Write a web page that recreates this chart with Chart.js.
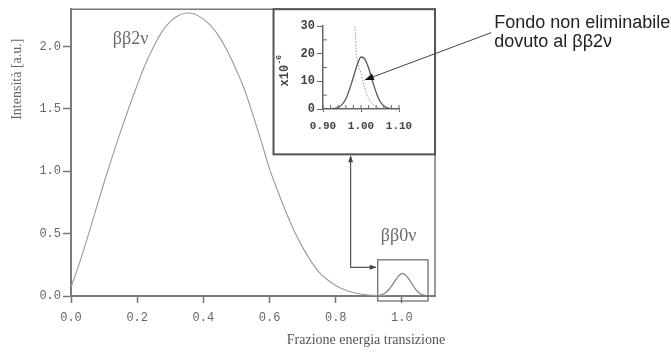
<!DOCTYPE html>
<html>
<head>
<meta charset="utf-8">
<script src="https://cdn.jsdelivr.net/npm/chart.js@4"></script>
<style>
  html, body { margin: 0; padding: 0; background: #fff; }
  #wrap { position: relative; width: 671px; height: 353px; }
  #wrap canvas { position: absolute; left: 0; top: 0; }
</style>
</head>
<body>
<div id="wrap">
  <canvas id="main" width="671" height="353"></canvas>
  <canvas id="inset" width="671" height="353"></canvas>
</div>
<script>
// spettro ββ2ν
const energy2nu = [0, 0.025, 0.05, 0.075, 0.1, 0.125, 0.15, 0.175, 0.2, 0.225, 0.25, 0.275, 0.3, 0.325, 0.35, 0.375, 0.4, 0.425, 0.45, 0.475, 0.5, 0.525, 0.55, 0.575, 0.6, 0.625, 0.65, 0.675, 0.7, 0.725, 0.75, 0.775, 0.8, 0.825, 0.85, 0.875, 0.9, 0.925, 0.95];
const intensity2nu = [0.07, 0.26, 0.47, 0.69, 0.91, 1.12, 1.32, 1.51, 1.69, 1.86, 2.0, 2.12, 2.2, 2.25, 2.27, 2.26, 2.22, 2.16, 2.07, 1.95, 1.81, 1.65, 1.45, 1.24, 1.02, 0.84, 0.67, 0.52, 0.39, 0.28, 0.19, 0.13, 0.085, 0.052, 0.03, 0.016, 0.008, 0.003, 0.001];

// picco ββ0ν
const energy0nu = [0.93, 0.95, 0.96, 0.97, 0.98, 0.99, 1.0, 1.01, 1.02, 1.03, 1.04, 1.05, 1.06, 1.08];
const intensity0nu = [0.004, 0.025, 0.05, 0.085, 0.125, 0.16, 0.18, 0.17, 0.14, 0.1, 0.06, 0.03, 0.012, 0];

// riquadro ingrandito (x10^-6)
const zoomEnergySum = [0.9, 0.92, 0.93, 0.94, 0.95, 0.96, 0.97, 0.98, 0.99, 1.0, 1.01, 1.02, 1.03, 1.04, 1.05, 1.06, 1.07, 1.08, 1.1];
const zoomSum = [0, 0.05, 0.2, 0.6, 1.6, 3.6, 7.2, 11.5, 16, 18.8, 18, 14.8, 10.2, 6, 2.8, 1.1, 0.4, 0.1, 0];
const zoomEnergy2nu = [0.983, 0.985, 0.988, 0.992, 0.996, 1.0, 1.005, 1.01, 1.015, 1.02, 1.03, 1.04, 1.05];
const zoom2nu = [32, 27, 19.5, 16.5, 14.5, 13, 10, 7.5, 5.3, 3.8, 1.8, 0.8, 0.2];

const xTicks = [0, 0.2, 0.4, 0.6, 0.8, 1.0];
const yTicks = [0, 0.5, 1.0, 1.5, 2.0];
const zoomXTicks = [0.9, 1.0, 1.1];
const zoomXMinor = [0.92, 0.94, 0.96, 0.98, 1.02, 1.04, 1.06, 1.08];
const zoomYTicks = [0, 10, 20, 30];
const zoomYMinor = [5, 15, 25];

const toXY = (xs, ys) => xs.map((x, i) => ({ x: x, y: ys[i] }));

// annotazioni (coordinate dei dati del grafico principale)
const insetBox = { x0: 0.612, x1: 1.1, y0: 1.136, y1: 2.3 };
const peakBox = { x0: 0.927, x1: 1.079, y0: -0.04, y1: 0.29 };
const elbow = { x: 0.845, y: 0.23 };
const noteAt = { x: 1.279, y1: 2.19, y2: 2.04, tailX: 1.27, tailY: 2.112 };
const noteTip = { x: 1.01, y: 10.5 };

const arrowHead = (ctx, fx, fy, tx, ty, len, wid) => {
  const ang = Math.atan2(ty - fy, tx - fx);
  ctx.save();
  ctx.translate(tx, ty);
  ctx.rotate(ang);
  ctx.beginPath();
  ctx.moveTo(0, 0);
  ctx.lineTo(-len, -wid / 2);
  ctx.lineTo(-len, wid / 2);
  ctx.closePath();
  ctx.fill();
  ctx.restore();
};

const mainDecor = {
  id: 'mainDecor',
  afterDraw(chart) {
    const { ctx, chartArea: a, scales: { x, y } } = chart;
    ctx.save();
    // cornice
    ctx.strokeStyle = '#7a7a7a';
    ctx.lineWidth = 1.5;
    ctx.beginPath();
    ctx.moveTo(a.left, a.top);
    ctx.lineTo(a.right, a.top);
    ctx.lineTo(a.right, a.bottom);
    ctx.stroke();

    // riquadro dell'ingrandimento
    const ix0 = x.getPixelForValue(insetBox.x0), ix1 = x.getPixelForValue(insetBox.x1);
    const iy0 = y.getPixelForValue(insetBox.y0), iy1 = y.getPixelForValue(insetBox.y1);
    ctx.fillStyle = '#fff';
    ctx.fillRect(ix0, iy1, ix1 - ix0, iy0 - iy1);
    ctx.strokeStyle = '#555';
    ctx.lineWidth = 2;
    ctx.strokeRect(ix0, iy1, ix1 - ix0, iy0 - iy1);

    // riquadro del picco
    const px0 = x.getPixelForValue(peakBox.x0), px1 = x.getPixelForValue(peakBox.x1);
    const py0 = y.getPixelForValue(peakBox.y0), py1 = y.getPixelForValue(peakBox.y1);
    ctx.strokeStyle = '#666';
    ctx.lineWidth = 1.2;
    ctx.strokeRect(px0, py1, px1 - px0, py0 - py1);

    // freccia a gomito
    const ex = x.getPixelForValue(elbow.x), ey = y.getPixelForValue(elbow.y);
    ctx.strokeStyle = '#555';
    ctx.fillStyle = '#444';
    ctx.lineWidth = 1.2;
    ctx.beginPath();
    ctx.moveTo(px0 - 2, ey);
    ctx.lineTo(ex, ey);
    ctx.lineTo(ex, iy0 + 2);
    ctx.stroke();
    arrowHead(ctx, ex, ey, px0 - 1, ey, 7, 5);
    arrowHead(ctx, ex, ey, ex, iy0 + 1, 7, 5);

    // etichette
    ctx.fillStyle = '#6a6a6a';
    ctx.font = '18px "Liberation Serif"';
    ctx.textAlign = 'center';
    ctx.textBaseline = 'middle';
    ctx.fillText('ββ2ν', x.getPixelForValue(0.18), y.getPixelForValue(2.06));
    ctx.fillText('ββ0ν', x.getPixelForValue(0.99), y.getPixelForValue(0.48));

    // titoli assi
    ctx.font = '14px "Liberation Serif"';
    ctx.fillStyle = '#555';
    ctx.fillText('Frazione energia transizione', a.right - 69, a.bottom + 44);
    ctx.fillStyle = '#666';
    ctx.translate(17, a.top + 70);
    ctx.rotate(-Math.PI / 2);
    ctx.fillText('Intensità [a.u.]', 0, 0);
    ctx.restore();
  }
};

const mainChart = new Chart(document.getElementById('main'), {
  type: 'line',
  data: {
    datasets: [
      {
        data: toXY(energy2nu, intensity2nu),
        borderColor: '#9a9a9a',
        borderWidth: 1.1,
        pointRadius: 0,
        cubicInterpolationMode: 'monotone',
      },
      {
        data: toXY(energy0nu, intensity0nu),
        borderColor: '#808080',
        borderWidth: 1.2,
        pointRadius: 0,
        cubicInterpolationMode: 'monotone',
      },
    ],
  },
  options: {
    responsive: false,
    animation: false,
    layout: { padding: { left: 11, right: 236, top: 8, bottom: 17 } },
    plugins: { legend: { display: false }, tooltip: { enabled: false } },
    scales: {
      x: {
        type: 'linear',
        min: 0,
        max: 1.1,
        afterBuildTicks: (s) => { s.ticks = xTicks.map((v) => ({ value: v })); },
        afterFit: (s) => { s.height = 40; },
        ticks: {
          font: { family: 'Liberation Mono', size: 12 },
          color: '#666',
          padding: 8,
          maxRotation: 0,
          callback: (v) => Number(v).toFixed(1),
        },
        grid: { drawOnChartArea: false, tickLength: 7, tickColor: '#777', tickWidth: 1.5 },
        border: { color: '#7a7a7a', width: 2 },
      },
      y: {
        min: 0,
        max: 2.3,
        afterBuildTicks: (s) => { s.ticks = yTicks.map((v) => ({ value: v })); },
        afterFit: (s) => { s.width = 60; },
        ticks: {
          font: { family: 'Liberation Mono', size: 12 },
          color: '#666',
          padding: 2,
          callback: (v) => Number(v).toFixed(1),
        },
        grid: { drawOnChartArea: false, tickLength: 8, tickColor: '#777', tickWidth: 1.5 },
        border: { color: '#7a7a7a', width: 2 },
      },
    },
  },
  plugins: [mainDecor],
});

const insetDecor = {
  id: 'insetDecor',
  afterDraw(chart) {
    const { ctx, chartArea: a, scales: { x, y } } = chart;
    ctx.save();
    // tacche secondarie
    ctx.strokeStyle = '#666';
    ctx.lineWidth = 1;
    ctx.beginPath();
    zoomXMinor.concat(zoomXTicks).forEach((v) => {
      const px = x.getPixelForValue(v);
      ctx.moveTo(px, a.bottom);
      ctx.lineTo(px, a.bottom - 4);
    });
    zoomYMinor.forEach((v) => {
      const py = y.getPixelForValue(v);
      ctx.moveTo(a.left, py);
      ctx.lineTo(a.left + 4, py);
    });
    ctx.stroke();

    // titolo asse y
    ctx.save();
    ctx.fillStyle = '#444';
    ctx.translate(a.left - 38, (a.top + a.bottom) / 2 + 4);
    ctx.rotate(-Math.PI / 2);
    ctx.textAlign = 'left';
    ctx.textBaseline = 'middle';
    ctx.font = 'bold 12px "Liberation Mono"';
    ctx.fillText('x10', -15, 0);
    ctx.font = 'bold 8px "Liberation Mono"';
    ctx.fillText('-6', 7, -6);
    ctx.restore();

    // nota con freccia
    const mx = mainChart.scales.x, my = mainChart.scales.y;
    const tx = x.getPixelForValue(noteTip.x), ty = y.getPixelForValue(noteTip.y);
    const sx = mx.getPixelForValue(noteAt.tailX), sy = my.getPixelForValue(noteAt.tailY);
    ctx.strokeStyle = '#444';
    ctx.fillStyle = '#111';
    ctx.lineWidth = 1;
    ctx.beginPath();
    ctx.moveTo(sx, sy);
    ctx.lineTo(tx, ty);
    ctx.stroke();
    arrowHead(ctx, sx, sy, tx, ty, 9, 7);

    ctx.fillStyle = '#222';
    ctx.font = '18px "Liberation Sans"';
    ctx.textAlign = 'left';
    ctx.textBaseline = 'middle';
    ctx.fillText('Fondo non eliminabile', mx.getPixelForValue(noteAt.x), my.getPixelForValue(noteAt.y1));
    ctx.fillText('dovuto al ββ2ν', mx.getPixelForValue(noteAt.x), my.getPixelForValue(noteAt.y2));
    ctx.restore();
  }
};

const insetChart = new Chart(document.getElementById('inset'), {
  type: 'line',
  data: {
    datasets: [
      {
        data: toXY(zoomEnergySum, zoomSum),
        borderColor: '#555',
        borderWidth: 1.3,
        pointRadius: 0,
        cubicInterpolationMode: 'monotone',
      },
      {
        data: toXY(zoomEnergy2nu, zoom2nu),
        borderColor: '#999',
        borderWidth: 1,
        borderDash: [1.5, 1.5],
        pointRadius: 0,
        cubicInterpolationMode: 'monotone',
      },
    ],
  },
  options: {
    responsive: false,
    animation: false,
    layout: { padding: { left: 283, right: 272, top: 26, bottom: 214 } },
    plugins: { legend: { display: false }, tooltip: { enabled: false } },
    scales: {
      x: {
        type: 'linear',
        min: 0.9,
        max: 1.1,
        afterBuildTicks: (s) => { s.ticks = zoomXTicks.map((v) => ({ value: v })); },
        afterFit: (s) => { s.height = 30; },
        ticks: {
          font: { family: 'Liberation Mono', size: 11, weight: 'bold' },
          color: '#444',
          padding: 8,
          maxRotation: 0,
          callback: (v) => Number(v).toFixed(2),
        },
        grid: { drawOnChartArea: false, tickLength: 3, tickColor: '#666' },
        border: { color: '#666', width: 1.5 },
      },
      y: {
        min: 0,
        max: 30,
        afterBuildTicks: (s) => { s.ticks = zoomYTicks.map((v) => ({ value: v })); },
        afterFit: (s) => { s.width = 40; },
        ticks: {
          font: { family: 'Liberation Mono', size: 12, weight: 'bold' },
          color: '#444',
          padding: 2,
          callback: (v) => String(v),
        },
        grid: { drawOnChartArea: false, tickLength: 6, tickColor: '#666' },
        border: { color: '#666', width: 1.5 },
      },
    },
  },
  plugins: [insetDecor],
});
</script>
</body>
</html>
